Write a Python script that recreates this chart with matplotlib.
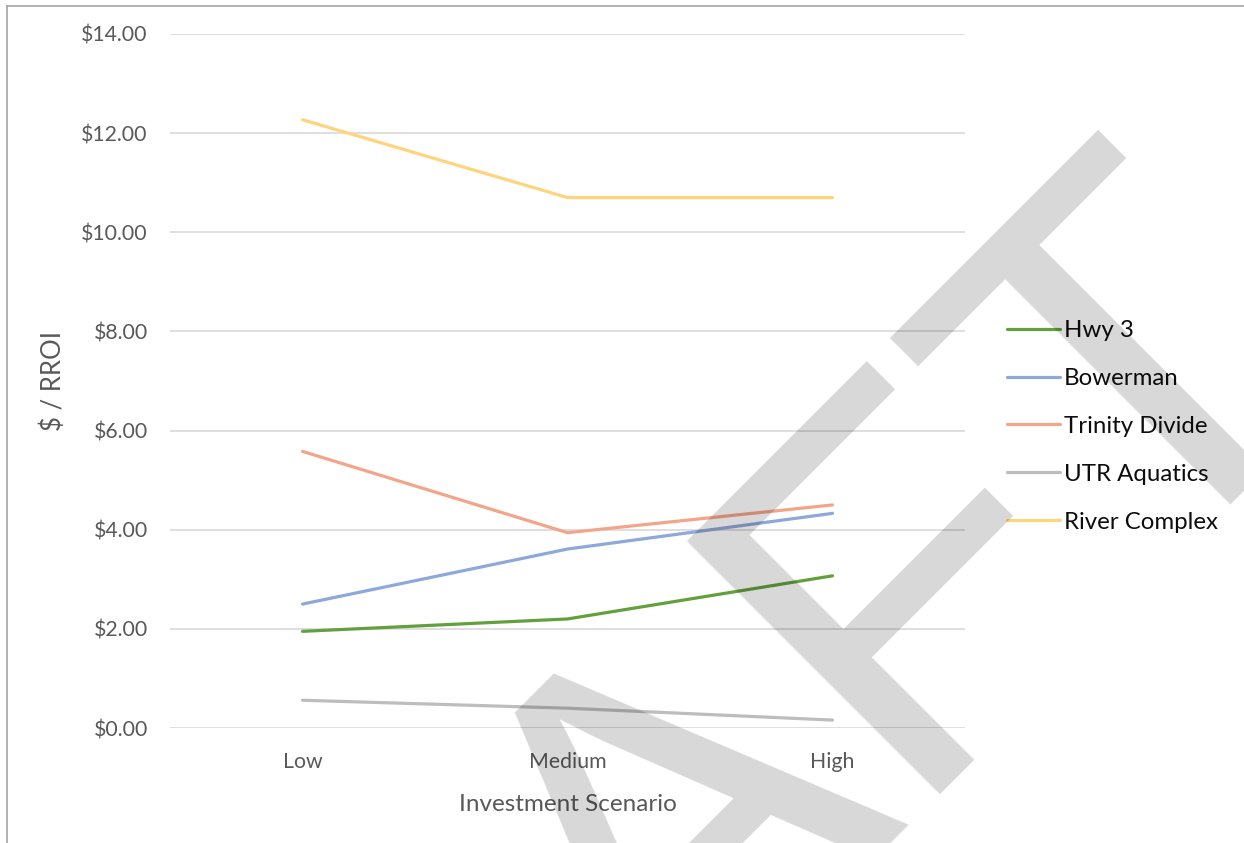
import matplotlib.pyplot as plt
from matplotlib.lines import Line2D

scenarios = ["Low", "Medium", "High"]

hwy3 = [1.95, 2.20, 3.07]
bowerman = [2.50, 3.61, 4.33]
trinity_divide = [5.58, 3.94, 4.50]
utr_aquatics = [0.56, 0.40, 0.16]
river_complex = [12.27, 10.70, 10.70]

series_names = ["Hwy 3", "Bowerman", "Trinity Divide", "UTR Aquatics", "River Complex"]
series_colors = ["#62A03E", "#8EA8DA", "#F2A588", "#BDBDBD", "#FFD47E"]

y_ticks = [0, 2, 4, 6, 8, 10, 12, 14]

plt.rcParams["font.family"] = ["Lato", "DejaVu Sans"]

fig = plt.figure(figsize=(12.44, 8.43), dpi=100)
ax = fig.add_axes([0.1367, 0.1364, 0.6390, 0.8233])

x = range(len(scenarios))
for name, vals, col in zip(series_names,
                           [hwy3, bowerman, trinity_divide, utr_aquatics, river_complex],
                           series_colors):
    ax.plot(x, vals, color=col, lw=2.3, label=name, solid_capstyle="round")

ax.set_xlim(-0.5, 2.5)
ax.set_ylim(0, 14)
ax.set_yticks(y_ticks)
ax.set_yticklabels([f"${v:.2f}" for v in y_ticks])
ax.set_xticks(list(x))
ax.set_xticklabels(scenarios)
ax.tick_params(length=0, labelsize=15.3, labelcolor="#595959")
ax.tick_params(axis="y", pad=16)
ax.tick_params(axis="x", pad=17)
ax.grid(axis="y", color="#D9D9D9", lw=1.2)
ax.set_axisbelow(True)
for s in ax.spines.values():
    s.set_visible(False)

ax.set_xlabel("Investment Scenario", fontsize=17.5, color="#595959", labelpad=16)
ax.set_ylabel("$ / RROI", fontsize=18.5, color="#595959", labelpad=11)

ax.legend(loc="upper left", bbox_to_anchor=(1007 / 1244, 1 - 320 / 843),
          bbox_transform=fig.transFigure, frameon=False, fontsize=17.3,
          handlelength=2.2, handletextpad=0.17, labelspacing=1.12,
          borderpad=0, borderaxespad=0, labelcolor="#0D0D0D")

# chart area border (only top and left are inside the picture)
fig.add_artist(Line2D([6.5 / 1244, 6.5 / 1244], [0, 1 - 5.5 / 843],
                      transform=fig.transFigure, color="#ABABAB", lw=1.3))
fig.add_artist(Line2D([6.5 / 1244, 1], [1 - 5.5 / 843, 1 - 5.5 / 843],
                      transform=fig.transFigure, color="#ABABAB", lw=1.3))

# watermark
fig.text(735 / 1244, 1 - 958 / 843, "DRAFT", fontsize=375, family="Liberation Sans",
         rotation=45, rotation_mode="anchor", ha="center", va="baseline",
         color="black", alpha=0.155, zorder=10)

fig.savefig("out.png", dpi=100)
